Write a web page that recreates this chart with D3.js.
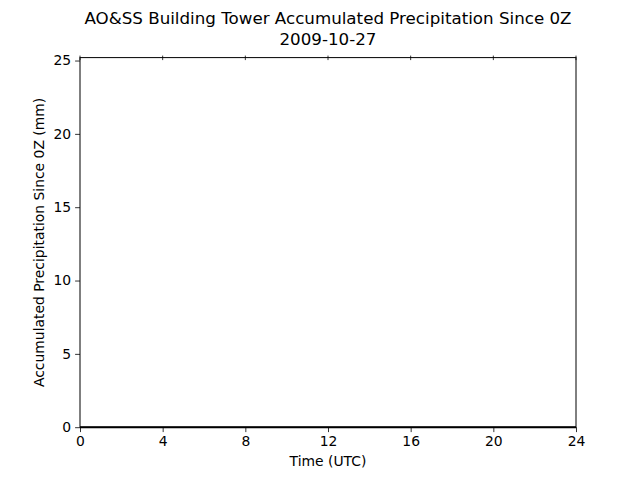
<!DOCTYPE html>
<html><head><meta charset="utf-8">
<script src="https://cdn.jsdelivr.net/npm/d3@7"></script>
<style>body{margin:0;background:#fff}svg{display:block}text{font-family:"DejaVu Sans",sans-serif;fill:#000}</style>
</head><body>
<script>
const titleLines = ["AO&SS Building Tower Accumulated Precipitation Since 0Z", "2009-10-27"];
const timeUTC = [0, 1, 2, 3, 4, 5, 6, 7, 8, 9, 10, 11, 12, 13, 14, 15, 16, 17, 18, 19, 20, 21, 22, 23, 24];
const precipMM = [0, 0, 0, 0, 0, 0, 0, 0, 0, 0, 0, 0, 0, 0, 0, 0, 0, 0, 0, 0, 0, 0, 0, 0, 0];
const xTicks = [0, 4, 8, 12, 16, 20, 24];
const yTicks = [0, 5, 10, 15, 20, 25];
const xLabel = "Time (UTC)";
const yLabel = "Accumulated Precipitation Since 0Z (mm)";

const W = 640, H = 480;
const m = {l: 80, r: 64, t: 57.6, b: 52.8};
const svg = d3.select("body").append("svg").attr("width", W).attr("height", H);
const x = d3.scaleLinear().domain([0, 24]).range([m.l, W - m.r]);
const y = d3.scaleLinear().domain([0, 25.2]).range([H - m.b, m.t]);

// data line
svg.append("path").datum(timeUTC.map((t, i) => [t, precipMM[i]]))
  .attr("fill", "none").attr("stroke", "#000").attr("stroke-width", 2)
  .attr("d", d3.line().x(d => x(d[0])).y(d => y(d[1])));

// axes
const fs = "13.9px";
const gx = svg.append("g").attr("transform", `translate(0,${H - m.b})`)
  .call(d3.axisBottom(x).tickValues(xTicks).tickSize(4.9).tickPadding(4).tickFormat(d3.format("d")));
const gy = svg.append("g").attr("transform", `translate(${m.l},0)`)
  .call(d3.axisLeft(y).tickValues(yTicks).tickSize(4.9).tickPadding(4).tickFormat(d3.format("d")));
[gx, gy].forEach(g => {
  g.select(".domain").remove();
  g.selectAll("line").attr("stroke", "#000").attr("stroke-width", 0.8);
  g.selectAll("text").style("font-size", fs).style("font-family", '"DejaVu Sans",sans-serif');
});
// top ticks crossing the spine
svg.append("g").selectAll("line").data(xTicks).join("line")
  .attr("x1", d => x(d)).attr("x2", d => x(d))
  .attr("y1", m.t - 2).attr("y2", m.t + 2.5)
  .attr("stroke", "#000").attr("stroke-width", 0.8);

// frame
svg.append("rect").attr("x", m.l).attr("y", m.t)
  .attr("width", W - m.l - m.r).attr("height", H - m.t - m.b)
  .attr("fill", "none").attr("stroke", "#000").attr("stroke-width", 1);

// labels
svg.append("text").attr("x", (m.l + W - m.r) / 2).attr("y", 466)
  .attr("text-anchor", "middle").style("font-size", fs).text(xLabel);
svg.append("text").attr("transform", `translate(43.5,${(m.t + H - m.b) / 2}) rotate(-90)`)
  .attr("text-anchor", "middle").style("font-size", fs).text(yLabel);
svg.append("g").selectAll("text").data(titleLines).join("text")
  .attr("x", (m.l + W - m.r) / 2).attr("y", (d, i) => 24 + i * 21)
  .attr("text-anchor", "middle").style("font-size", "16.7px").text(d => d);
</script>
</body></html>
